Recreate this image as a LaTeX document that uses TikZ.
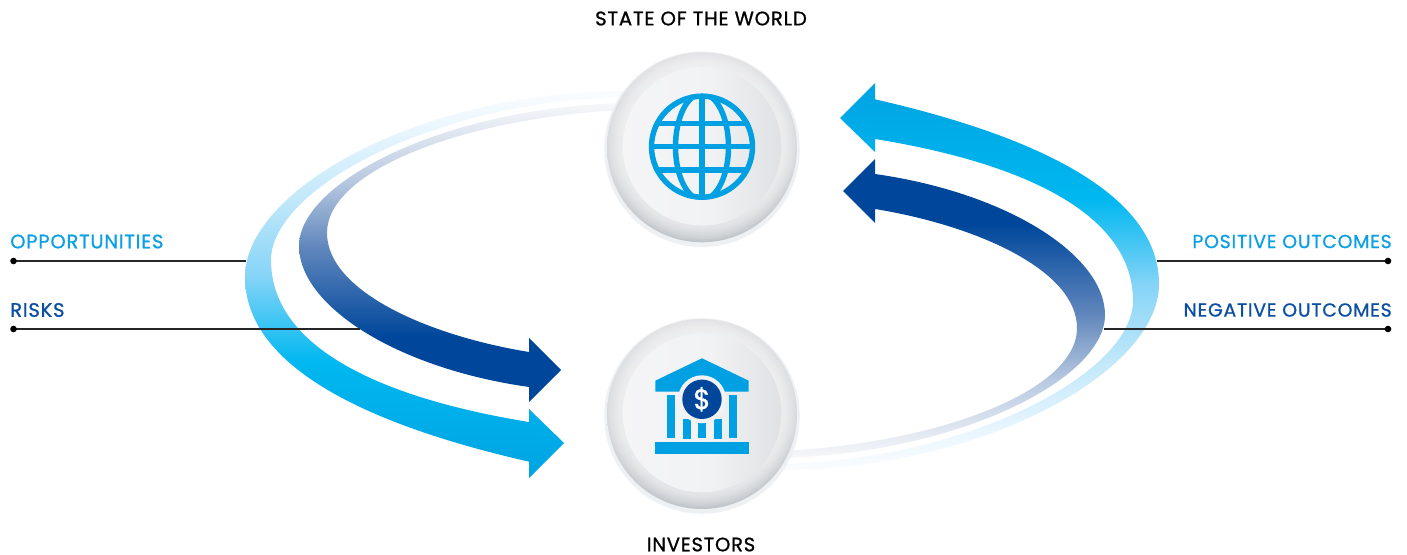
\documentclass[tikz,border=0pt]{standalone}
\usepackage{fontspec}
\setmainfont{Poppins}[LetterSpace=4.0,FakeBold=0.9]
\newfontfamily\dollarfont{Poppins}[FakeBold=1.0]
\definecolor{lblue}{HTML}{0B9FE3}
\definecolor{dblue}{HTML}{0B4EA2}
\definecolor{iconblue}{HTML}{00A0E3}
\definecolor{coinblue}{HTML}{00479B}
\definecolor{halo}{HTML}{EEF1F3}
\definecolor{facebg}{HTML}{F1F2F3}
\pgfdeclareverticalshading{lightband}{100bp}{
  rgb(0bp)=(0,0.64,0.89);
  rgb(25bp)=(0,0.64,0.89);
  rgb(40bp)=(0,0.72,0.94);
  rgb(51bp)=(0.52,0.83,0.97);
  rgb(61bp)=(0.76,0.91,0.98);
  rgb(71bp)=(0.93,0.97,1);
  rgb(75bp)=(0.98,0.99,1);
  rgb(100bp)=(1,1,1)}
\pgfdeclareverticalshading{darkband}{100bp}{
  rgb(0bp)=(0,0.28,0.61);
  rgb(36bp)=(0,0.28,0.61);
  rgb(51bp)=(0.38,0.53,0.74);
  rgb(62bp)=(0.72,0.79,0.88);
  rgb(75bp)=(0.97,0.97,0.98);
  rgb(100bp)=(1,1,1)}
\pgfdeclareverticalshading{ringshade}{100bp}{
  rgb(0bp)=(0.75,0.77,0.79);
  rgb(25bp)=(0.75,0.77,0.79);
  rgb(45bp)=(0.84,0.85,0.86);
  rgb(75bp)=(0.89,0.89,0.90);
  rgb(100bp)=(0.89,0.89,0.90)}
\pgfdeclarehorizontalshading{faceshade}{100bp}{
  rgb(0bp)=(0.96,0.96,0.965);
  rgb(25bp)=(0.96,0.96,0.965);
  rgb(52bp)=(0.945,0.95,0.955);
  rgb(75bp)=(0.875,0.885,0.895);
  rgb(100bp)=(0.875,0.885,0.895)}
\tikzset{
  x=0.75pt,y=-0.75pt,
  lab/.style={font=\fontsize{14.6pt}{16pt}\selectfont,inner sep=0pt},
  labright/.style={font=\fontsize{14.15pt}{16pt}\selectfont,inner sep=0pt},
  labtop/.style={font=\fontsize{14.75pt}{16pt}\selectfont,inner sep=0pt},
  leader/.style={draw=black!85,line width=0.85pt},
  tipdot/.style={fill=black,draw=none},
  iconfill/.style={fill=iconblue,draw=none},
  globeline/.style={draw=iconblue,line width=4.1pt},
}
\newcommand{\lightband}[1]{%
  \shade[shading=lightband,shading angle=#1]
  (623,91) .. controls (425,91) and (245,188) .. (245,277)
  .. controls (245,362) and (355,422) .. (529,461.7)
  -- (529,478) -- (564,443) -- (529,409) -- (529,422)
  .. controls (375,397) and (271,345) .. (271,260)
  .. controls (271,190) and (430,102) .. (623,97) -- cycle;}
\newcommand{\darkband}[1]{%
  \shade[shading=darkband,shading angle=#1]
  (622,103) .. controls (445,108) and (299,182) .. (299,246)
  .. controls (299,305) and (395,368) .. (529,387)
  -- (529,402) -- (561,370) -- (529,338) -- (529,352)
  .. controls (425,335) and (327,290) .. (327,233)
  .. controls (327,170) and (465,118) .. (622,110) -- cycle;}
\newcommand{\medallion}[1]{%
  \fill[halo] (702,#1+2) circle (97.8);
  \shade[shading=ringshade] (702,#1) circle (95);
  \foreach \r in {93.5,92,90.5,89,87.5,86,84.5,83,81.5}
    \fill[white,fill opacity=0.09] (702,#1) circle (\r);
  \shade[shading=faceshade] (702,#1-1) circle (79.3);
}
\begin{document}
\begin{tikzpicture}
\useasboundingbox (0,0) rectangle (1407,555);
% bands, left
\lightband{0}
\darkband{0}
% bands, right (point reflection about the centre)
\begin{scope}[rotate around={180:(702,280.5)}]
\lightband{180}
\darkband{180}
\end{scope}
% medallions
\medallion{147.3}
\medallion{414}
% globe
\begin{scope}
\clip (702,146.7) circle (53);
\draw[globeline] (702,94) -- (702,200);
\draw[globeline] (649,146.7) -- (755,146.7);
\draw[globeline] (640,123.5) -- (764,123.5);
\draw[globeline] (640,170) -- (764,170);
\draw[globeline] (702,146.7) ellipse (26.5 and 53);
\end{scope}
\draw[globeline] (702,146.7) circle (50.5);
% bank
\fill[iconfill] (702,358.3) -- (748.7,380.7) -- (748.7,391.7) -- (655.3,391.7) -- (655.3,380.7) -- cycle;
\fill[iconfill] (667,395) rectangle (675,437.7);
\fill[iconfill] (729,395) rectangle (737,437.7);
\fill[iconfill] (683,419) rectangle (691,438.7);
\fill[iconfill] (698,422) rectangle (706,437.7);
\fill[iconfill] (714,419) rectangle (722,438.7);
\fill[iconfill] (655,442) rectangle (749,453.7);
\fill[facebg] (702,399.3) circle (24);
\fill[coinblue] (702,399.3) circle (19.7);
\node[inner sep=0pt,text=white,font=\dollarfont\fontsize{21pt}{23pt}\selectfont] (dollar) at (702,399.3) {\$};
% leaders
\coordinate (oppL) at (13.5,261);
\coordinate (oppR) at (246,261);
\coordinate (rskL) at (13.5,329);
\coordinate (rskR) at (360,329);
\coordinate (posL) at (1157,261);
\coordinate (posR) at (1388,261);
\coordinate (negL) at (1104,329);
\coordinate (negR) at (1388,329);
\draw[leader] (oppL) -- (oppR);
\draw[leader] (rskL) -- (rskR);
\draw[leader] (posL) -- (posR);
\draw[leader] (negL) -- (negR);
\foreach \p in {oppL,rskL,posR,negR} \fill[tipdot] (\p) circle (3.3);
% labels
\node[labtop,text=black] (world) at (701,18.5) {STATE OF THE WORLD};
\node[lab,text=black] (inv) at (701,544.5) {INVESTORS};
\node[lab,text=lblue,anchor=west] (opp) at (10,241.5) {OPPORTUNITIES};
\node[lab,text=dblue,anchor=west] (risk) at (10,310) {RISKS};
\node[labright,text=lblue,anchor=east] (pos) at (1392,241.5) {POSITIVE OUTCOMES};
\node[labright,text=dblue,anchor=east] (neg) at (1392,310) {NEGATIVE OUTCOMES};
\end{tikzpicture}
\end{document}
